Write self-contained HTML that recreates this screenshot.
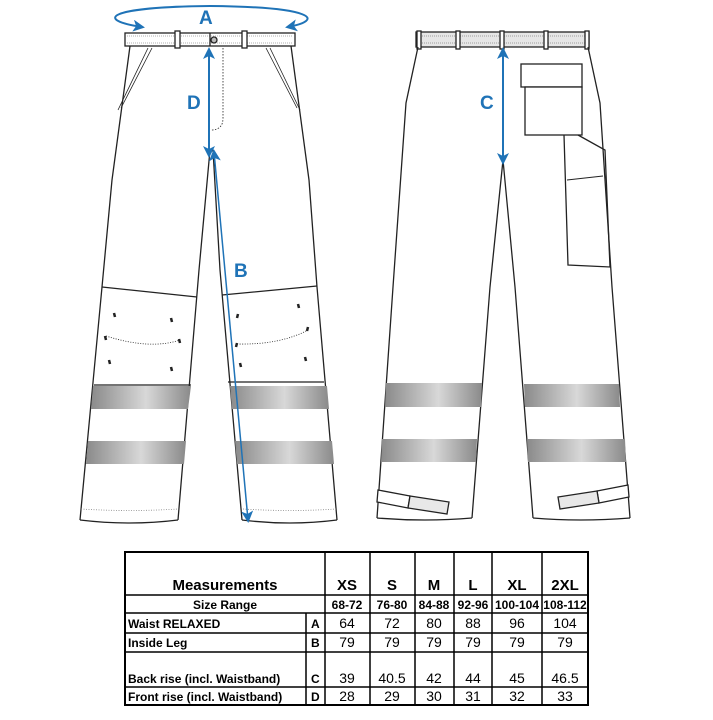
<!DOCTYPE html>
<html><head><meta charset="utf-8"><style>
html,body{margin:0;padding:0;background:#fff;}
svg{display:block;font-family:"Liberation Sans",Arial,sans-serif;}
</style></head><body>
<svg width="713" height="720" viewBox="0 0 713 720" xmlns="http://www.w3.org/2000/svg">
<defs>
<linearGradient id="band" x1="0" x2="1" y1="0" y2="0">
<stop offset="0" stop-color="#8a8a8a"/><stop offset="0.55" stop-color="#d8d8d8"/><stop offset="1" stop-color="#8a8a8a"/>
</linearGradient>
<marker id="ah" markerWidth="12" markerHeight="12" refX="9" refY="6" orient="auto-start-reverse" markerUnits="userSpaceOnUse"><path d="M0,0 L12,6 L0,12 L3,6 z" fill="#1f73b7"/></marker>
</defs>
<g stroke="#222" stroke-width="1.3" fill="none">
<rect x="125" y="33" width="170" height="13" fill="#fff"/>
<line x1="127" y1="36" x2="293" y2="36" stroke="#999" stroke-dasharray="1 1" stroke-width="0.8"/>
<line x1="127" y1="43" x2="293" y2="43" stroke="#999" stroke-dasharray="1 1" stroke-width="0.8"/>
<rect x="175" y="31" width="5" height="17" fill="#fff"/>
<rect x="242" y="31" width="5" height="17" fill="#fff"/>
<circle cx="214" cy="40" r="3" fill="#bbb"/>
<line x1="210" y1="33" x2="210" y2="46"/>
<path d="M130,46 L112,180 L102,287 L80,520"/>
<path d="M291,46 L309,180 L317,287 L337,520"/>
<path d="M210,150 L199,270 L178,520"/>
<path d="M213,150 L220,270 L242,520"/>
<path d="M80,520 Q130,526 178,520"/>
<path d="M242,520 Q290,526 337,520"/>
<path d="M148,48 L118,110 M152,48 L121,108" stroke-width="0.8"/>
<path d="M270,48 L300,110 M266,48 L297,108" stroke-width="0.8"/>
<path d="M223,48 L223,118 Q223,130 211,130" stroke-dasharray="1.5 1.5" stroke-width="0.8"/>
<path d="M102,287 L197,297 M94,385 L191,385 M222,295 L317,286 M228,382 L324,382"/>
<path d="M106,336 Q150,350 180,340 M237,344 Q280,345 308,330" stroke-dasharray="1 1.5" stroke-width="0.8"/>
<g stroke-width="2.5">
<path d="M114,313 l1,4 M171,318 l1,4 M105,336 l1,4 M179,339 l1,4 M109,360 l1,4 M171,367 l1,4 M238,314 l-1,4 M298,304 l1,4 M237,343 l-1,4 M308,327 l-1,4 M240,363 l1,4 M305,357 l1,4"/>
</g>
<polygon points="93,386 191,386 188,409 91,409" fill="url(#band)" stroke="none"/>
<polygon points="88,441 186,441 184,464 86,464" fill="url(#band)" stroke="none"/>
<polygon points="230,386 327,386 329,409 232,409" fill="url(#band)" stroke="none"/>
<polygon points="235,441 332,441 334,464 237,464" fill="url(#band)" stroke="none"/>
<path d="M81,509 Q130,512 178,509 M243,509 Q290,512 336,509" stroke="#888" stroke-dasharray="1 1.5" stroke-width="0.8"/>
<rect x="416" y="32" width="173" height="15" fill="#e6e6e6"/>
<line x1="418" y1="36" x2="587" y2="36" stroke="#888" stroke-dasharray="1 1" stroke-width="0.8"/>
<line x1="418" y1="43" x2="587" y2="43" stroke="#888" stroke-dasharray="1 1" stroke-width="0.8"/>
<rect x="417" y="31" width="4" height="18" fill="#fff"/>
<rect x="456" y="31" width="4" height="18" fill="#fff"/>
<rect x="500" y="31" width="4" height="18" fill="#fff"/>
<rect x="544" y="31" width="4" height="18" fill="#fff"/>
<rect x="585" y="31" width="4" height="18" fill="#fff"/>
<path d="M418,47 L406,103 L393,287 L377,518"/>
<path d="M588,47 L600,103 L612,287 L630,518"/>
<path d="M503,160 L490,287 L472,518"/>
<path d="M503,160 L515,287 L533,518"/>
<path d="M377,518 Q425,522 472,518 M533,518 Q580,522 630,518"/>
<rect x="521" y="64" width="61" height="23" fill="#fff"/>
<rect x="525" y="87" width="57" height="48" fill="#fff"/>
<path d="M564,135 L568,265 L610,267 L605,150 L578,135"/>
<path d="M567,180 L603,176" stroke-width="0.9"/>
<polygon points="378,490 410,496 408,508 377,502" fill="#fff"/>
<polygon points="410,496 449,502 447,514 408,508" fill="#e8e8e8"/>
<polygon points="628,485 597,491 599,503 629,497" fill="#fff"/>
<polygon points="597,491 558,497 560,509 599,503" fill="#e8e8e8"/>
<polygon points="386,383 482,383 481,407 385,407" fill="url(#band)" stroke="none"/>
<polygon points="382,439 477,439 476,462 381,462" fill="url(#band)" stroke="none"/>
<polygon points="524,384 619,384 620,407 525,407" fill="url(#band)" stroke="none"/>
<polygon points="527,439 625,439 626,462 528,462" fill="url(#band)" stroke="none"/>
</g>
<g stroke="#1f73b7" stroke-width="2" fill="none">
<path d="M142,27 C95,20 105,7 210,6 C315,7 325,20 288,27" marker-start="url(#ah)" marker-end="url(#ah)"/>
<line x1="209" y1="50" x2="209" y2="155" marker-start="url(#ah)" marker-end="url(#ah)"/>
<line x1="214" y1="152" x2="248" y2="520" stroke-width="1.5" marker-start="url(#ah)" marker-end="url(#ah)"/>
<line x1="503" y1="50" x2="503" y2="162" marker-start="url(#ah)" marker-end="url(#ah)"/>
</g>
<g fill="#1f73b7" font-weight="bold" font-size="19">
<text x="199" y="24">A</text><text x="187" y="109">D</text><text x="234" y="277">B</text><text x="480" y="109">C</text>
</g>
<g stroke="#000" stroke-width="1.5">
<rect x="125" y="552" width="463" height="153" fill="none" stroke-width="2"/>
<line x1="125" y1="595" x2="588" y2="595"/>
<line x1="125" y1="613" x2="588" y2="613"/>
<line x1="125" y1="633" x2="588" y2="633"/>
<line x1="125" y1="652" x2="588" y2="652"/>
<line x1="125" y1="687" x2="588" y2="687"/>
<line x1="306" y1="613" x2="306" y2="705"/>
<line x1="325" y1="552" x2="325" y2="705"/>
<line x1="370" y1="552" x2="370" y2="705"/>
<line x1="415" y1="552" x2="415" y2="705"/>
<line x1="454" y1="552" x2="454" y2="705"/>
<line x1="492" y1="552" x2="492" y2="705"/>
<line x1="542" y1="552" x2="542" y2="705"/>
</g>
<g font-size="15" font-weight="bold" text-anchor="middle">
<text x="225" y="590">Measurements</text>
<text x="347" y="590">XS</text><text x="392" y="590">S</text><text x="434" y="590">M</text><text x="473" y="590">L</text><text x="517" y="590">XL</text><text x="565" y="590">2XL</text>
</g>
<g font-size="12" font-weight="bold" text-anchor="middle">
<text x="225" y="609">Size Range</text>
<text x="347" y="609">68-72</text><text x="392" y="609">76-80</text><text x="434" y="609">84-88</text><text x="473" y="609">92-96</text><text x="517" y="609">100-104</text><text x="565" y="609">108-112</text>
</g>
<g font-size="12" font-weight="bold">
<text x="128" y="628">Waist RELAXED</text><text x="128" y="647">Inside Leg</text>
<text x="128" y="683">Back rise (incl. Waistband)</text><text x="128" y="701">Front rise (incl. Waistband)</text>
<text x="311" y="628">A</text><text x="311" y="647">B</text><text x="311" y="683">C</text><text x="311" y="701">D</text>
</g>
<g font-size="14" text-anchor="middle">
<text x="347" y="628">64</text><text x="392" y="628">72</text><text x="434" y="628">80</text><text x="473" y="628">88</text><text x="517" y="628">96</text><text x="565" y="628">104</text>
<text x="347" y="647">79</text><text x="392" y="647">79</text><text x="434" y="647">79</text><text x="473" y="647">79</text><text x="517" y="647">79</text><text x="565" y="647">79</text>
<text x="347" y="683">39</text><text x="392" y="683">40.5</text><text x="434" y="683">42</text><text x="473" y="683">44</text><text x="517" y="683">45</text><text x="565" y="683">46.5</text>
<text x="347" y="701">28</text><text x="392" y="701">29</text><text x="434" y="701">30</text><text x="473" y="701">31</text><text x="517" y="701">32</text><text x="565" y="701">33</text>
</g>
</svg>
</body></html>
